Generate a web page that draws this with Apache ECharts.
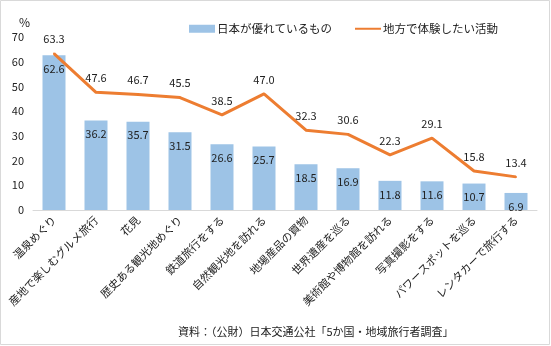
<!DOCTYPE html>
<html>
<head>
<meta charset="utf-8">
<script src="https://cdn.jsdelivr.net/npm/echarts@6/dist/echarts.min.js"></script>
<style>
  html, body { margin: 0; padding: 0; background: #fff; }
  #chart { width: 551px; height: 346px; }
</style>
</head>
<body>
<div id="chart"></div>
<script>
// Activities (x categories)
const categories = [
  '温泉めぐり', '産地で楽しむグルメ旅行', '花見', '歴史ある観光地めぐり',
  '鉄道旅行をする', '自然観光地を訪れる', '地場産品の買物', '世界遺産を巡る',
  '美術館や博物館を訪れる', '写真撮影をする', 'パワースポットを巡る', 'レンタカーで旅行する'
];
// 日本が優れているもの (%)
const japanStrengths = [62.6, 36.2, 35.7, 31.5, 26.6, 25.7, 18.5, 16.9, 11.8, 11.6, 10.7, 6.9];
// 地方で体験したい活動 (%)
const regionalWishes = [63.3, 47.6, 46.7, 45.5, 38.5, 47.0, 32.3, 30.6, 22.3, 29.1, 15.8, 13.4];

const FONT = '"Noto Sans CJK JP", "Noto Sans", sans-serif';
const ORANGE = '#ed7d31';

const chart = echarts.init(document.getElementById('chart'), null, { renderer: 'canvas' });
chart.setOption({
  animation: false,
  textStyle: { fontFamily: FONT },
  legend: {
    top: 18,
    left: 184,
    itemGap: 22,
    itemWidth: 26,
    itemHeight: 8,
    textStyle: { fontFamily: FONT, fontSize: 11.5, color: '#222', padding: [0, 0, 0, -3] },
    data: [
      { name: '日本が優れているもの', icon: 'rect' },
      // plain line swatch, no marker dot
      { name: '地方で体験したい活動', itemStyle: { opacity: 0 } }
    ]
  },
  grid: { left: 33, right: 14, top: 37, bottom: 136, containLabel: false },
  xAxis: {
    type: 'category',
    data: categories,
    axisLine: { lineStyle: { color: '#d9d9d9', width: 1 } },
    axisTick: { show: false },
    axisLabel: {
      interval: 0,
      rotate: 45,
      margin: 8,
      fontFamily: FONT,
      fontSize: 11,
      color: '#222'
    }
  },
  yAxis: {
    type: 'value',
    min: 0,
    max: 70,
    interval: 10,
    axisLine: { show: false },
    axisTick: { show: false },
    splitLine: { show: false },
    axisLabel: { fontFamily: FONT, fontSize: 11, color: '#222', margin: 9 }
  },
  series: [
    {
      name: '日本が優れているもの',
      type: 'bar',
      data: japanStrengths,
      barWidth: 23,
      itemStyle: { color: '#9dc3e6' },
      label: {
        show: true,
        position: 'insideTop',
        distance: 8,
        formatter: p => p.value.toFixed(1),
        fontFamily: FONT,
        fontSize: 11,
        color: '#222'
      }
    },
    {
      name: '地方で体験したい活動',
      type: 'line',
      data: regionalWishes,
      symbol: 'circle',
      symbolSize: 2,
      showSymbol: true,
      lineStyle: { color: ORANGE, width: 3 },
      itemStyle: { color: ORANGE },
      label: {
        show: true,
        position: 'top',
        distance: 8,
        formatter: p => p.value.toFixed(1),
        fontFamily: FONT,
        fontSize: 11,
        color: '#222'
      }
    }
  ],
  graphic: [
    {
      type: 'rect',
      shape: { x: 0.5, y: 0.5, width: 549, height: 344 },
      style: { fill: 'none', stroke: '#d9d9d9', lineWidth: 1 },
      silent: true
    },
    {
      type: 'text',
      left: 19,
      top: 16,
      style: { text: '%', fontFamily: FONT, fontSize: 12, fill: '#222' }
    },
    {
      type: 'text',
      left: 178,
      top: 326,
      style: {
        text: '資料：（公財）日本交通公社「5か国・地域旅行者調査」',
        fontFamily: FONT,
        fontSize: 11,
        fill: '#222'
      }
    }
  ]
});
</script>
</body>
</html>
